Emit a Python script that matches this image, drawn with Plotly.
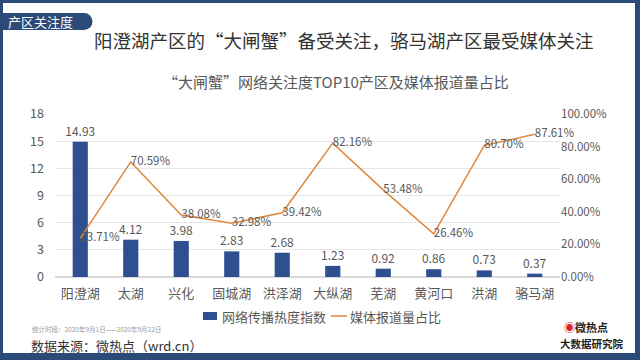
import plotly.graph_objects as go

categories = ["阳澄湖", "太湖", "兴化", "固城湖", "洪泽湖", "大纵湖", "芜湖", "黄河口", "洪湖", "骆马湖"]
heat_index = [14.93, 4.12, 3.98, 2.83, 2.68, 1.23, 0.92, 0.86, 0.73, 0.37]
media_share = [0.2371, 0.7059, 0.3808, 0.3298, 0.3942, 0.8216, 0.5348, 0.2646, 0.8070, 0.8761]
left_ticks = [0, 3, 6, 9, 12, 15, 18]
right_ticks = [0, 0.2, 0.4, 0.6, 0.8, 1.0]
series_names = ["网络传播热度指数", "媒体报道量占比"]

W, H = 640, 360
L, R, T, B = 55, 80, 114, 83
PW, PH = W - L - R, H - T - B

def px(x):
    return (x - L) / PW

def py(y):
    return (H - B - y) / PH

FONT = "Noto Sans CJK SC"
GRAY = "#595959"
BAR = "#2e5090"
ORANGE = "#e0883e"
NAVY = "#2b4a78"

fig = go.Figure()
fig.add_trace(go.Bar(
    x=categories, y=heat_index, name=series_names[0],
    marker=dict(color=BAR, line=dict(width=0)), width=0.3,
    text=[f"{v:.2f}" for v in heat_index], textposition="outside",
    textfont=dict(size=12, color=GRAY, family=FONT), cliponaxis=False,
    constraintext="none", yaxis="y", showlegend=False, hoverinfo="skip",
))
fig.add_trace(go.Scatter(
    x=categories, y=media_share, name=series_names[1], mode="lines+text",
    line=dict(color=ORANGE, width=1.5),
    text=[f"{v*100:.2f}%" for v in media_share], textposition="middle right",
    textfont=dict(size=11.5, color=GRAY, family=FONT), cliponaxis=False,
    yaxis="y2", showlegend=False, hoverinfo="skip",
))

shapes = []
def rect(x0, y0, x1, y1, color, kind="rect"):
    shapes.append(dict(type=kind, xref="paper", yref="paper",
                       x0=px(x0), x1=px(x1), y0=py(y1), y1=py(y0),
                       fillcolor=color, line=dict(width=0), layer="above"))

# frame
rect(0, 0, 640, 3, NAVY)
rect(0, 0, 3, 360, NAVY)
rect(635, 0, 640, 360, NAVY)
rect(0, 353, 640, 360, NAVY)
# tag
rect(0, 13, 84, 30, NAVY)
rect(75.5, 13, 92.5, 30, NAVY, kind="circle")
# legend keys
rect(203, 312, 217, 320, BAR)
shapes.append(dict(type="line", xref="paper", yref="paper", x0=px(331), x1=px(347),
                   y0=py(316), y1=py(316), line=dict(color=ORANGE, width=1.5)))

annotations = []
def text(x, y, s, size, color, anchor="left", weight="normal"):
    annotations.append(dict(xref="paper", yref="paper", x=px(x), y=py(y), text=s,
                            showarrow=False, xanchor=anchor, yanchor="middle",
                            font=dict(size=size, color=color, family=FONT, weight=weight)))

text(6, 21.5, "产区关注度", 13, "white")
text(92, 40, "阳澄湖产区的“大闸蟹”备受关注，骆马湖产区最受媒体关注", 18.5, "#333333")
text(336, 81, "“大闸蟹”网络关注度TOP10产区及媒体报道量占比", 15, GRAY, anchor="center")
text(220, 316, series_names[0], 13, GRAY)
text(348, 316, series_names[1], 13, GRAY)
text(30, 329, "统计时段：2020年9月1日——2020年9月22日", 6.5, "#9a9a9a")
text(29, 345, "数据来源：微热点（wrd.cn）", 13, "#333333")
text(562, 327, "<span style='color:#d9232d'>◉</span>微热点", 11, "#222222", weight="bold")
text(558, 343, "大数据研究院", 10.5, "#222222", weight="bold")

fig.update_layout(
    width=W, height=H, margin=dict(l=L, r=R, t=T, b=B),
    paper_bgcolor="white", plot_bgcolor="white",
    font=dict(family=FONT, color=GRAY, size=13),
    showlegend=False,
    xaxis=dict(showgrid=False, showline=False, ticks="", tickfont=dict(size=13, color=GRAY),
               ticklabelstandoff=7),
    yaxis=dict(range=[0, 18], tickvals=left_ticks, showgrid=True, gridcolor="#e6e6e6",
               zeroline=True, zerolinecolor="#d9d9d9", showline=False, ticks="",
               tickfont=dict(size=12.5, color=GRAY), ticklabelstandoff=10),
    yaxis2=dict(range=[0, 1], tickvals=right_ticks, tickformat=".2%", overlaying="y", side="right",
                showgrid=False, zeroline=False, showline=False, ticks="",
                tickfont=dict(size=11.5, color=GRAY), ticklabelstandoff=0),
    shapes=shapes, annotations=annotations, bargap=0.7,
)

fig.write_html("out.html", config={"displayModeBar": False},
               post_script="document.body.style.margin='0';document.body.style.overflow='hidden';")
